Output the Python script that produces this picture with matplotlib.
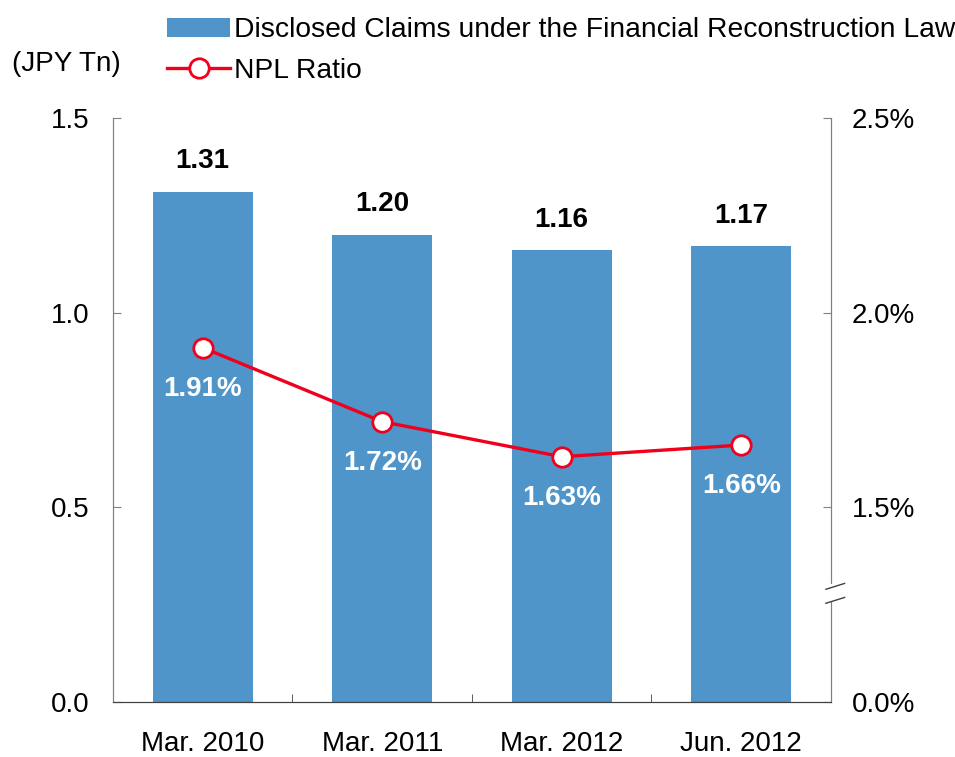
import matplotlib.pyplot as plt
from matplotlib.lines import Line2D

plt.rcParams["font.family"] = ["Liberation Sans", "DejaVu Sans"]

# =========================
# Data
# =========================
periods = ["Mar. 2010", "Mar. 2011", "Mar. 2012", "Jun. 2012"]
claims = [1.31, 1.20, 1.16, 1.17]        # JPY Tn
npl_ratio = [1.91, 1.72, 1.63, 1.66]     # %

bar_color = "#4F95C9"
line_color = "#F0001C"
fs = 20

# =========================
# Plot
# =========================
fig = plt.figure(figsize=(9.55, 7.57), dpi=100)
ax = fig.add_axes([0.1183, 0.0727, 0.7518, 0.7714])
ax2 = ax.twinx()

x = list(range(len(periods)))
bars = ax.bar(x, claims, width=0.556, color=bar_color, zorder=2,
              label="Disclosed Claims under the Financial Reconstruction Law")

for xi, v in zip(x, claims):
    ax.text(xi, v + 0.045, f"{v:.2f}", ha="center", va="bottom",
            fontsize=fs, fontweight="bold", color="black")

ax.set_xlim(-0.5, len(periods) - 0.5)
ax.set_ylim(0, 1.5)
ax.set_yticks([0.0, 0.5, 1.0, 1.5])
ax.set_yticklabels(["0.0", "0.5", "1.0", "1.5"])
ax.set_xticks(x)
ax.set_xticklabels(periods)
ax.set_xticks([0.5, 1.5, 2.5], minor=True)

ax.tick_params(axis="y", direction="in", length=6, pad=17, labelsize=fs,
               color="#808080")
ax.tick_params(axis="x", which="major", length=0, pad=21, labelsize=fs)
ax.tick_params(axis="x", which="minor", direction="in", length=6,
               color="#404040")

# ---- NPL ratio on right axis (broken: 0.0% then 1.5% - 2.5%) ----
line, = ax2.plot(x, npl_ratio, color=line_color, linewidth=2.4,
                 marker="o", markersize=14, markerfacecolor="white",
                 markeredgecolor=line_color, markeredgewidth=2, zorder=3,
                 label="NPL Ratio")
for xi, v in zip(x, npl_ratio):
    ax2.text(xi, v - 0.105, f"{v:.2f}%", ha="center", va="center",
             fontsize=fs, fontweight="bold", color="white")

ax2.set_ylim(1.0, 2.5)
ax2.set_yticks([1.0, 1.5, 2.0, 2.5])
ax2.set_yticklabels(["0.0%", "1.5%", "2.0%", "2.5%"])
ax2.tick_params(axis="y", direction="in", length=6, pad=15, labelsize=fs,
                color="#808080")

for a in (ax, ax2):
    a.spines["top"].set_visible(False)
    a.spines["left"].set_color("#808080")
    a.spines["right"].set_color("#808080")
    a.spines["bottom"].set_color("#404040")

# ---- axis break marks on the right spine ----
brk_y = 0.186
ax2.plot([1.0, 1.0], [brk_y - 0.012, brk_y + 0.012], transform=ax2.transAxes,
         color="white", linewidth=3, clip_on=False, zorder=5)
for dy in (0.012, -0.012):
    ax2.add_line(Line2D([0.993, 1.019], [brk_y + dy - 0.005, brk_y + dy + 0.005],
                        transform=ax2.transAxes, color="#404040",
                        linewidth=1, clip_on=False, zorder=6))

# =========================
# Labels / legend
# =========================
fig.text(0.013, 0.916, "(JPY Tn)", fontsize=fs, va="center", ha="left")

fig.legend(handles=[bars, line], loc="upper left",
           bbox_to_anchor=(0.163, 0.992), frameon=False, fontsize=20.3,
           handlelength=2.24, handletextpad=0.15, labelspacing=0.53,
           borderaxespad=0)

fig.savefig("out.png", dpi=100)
